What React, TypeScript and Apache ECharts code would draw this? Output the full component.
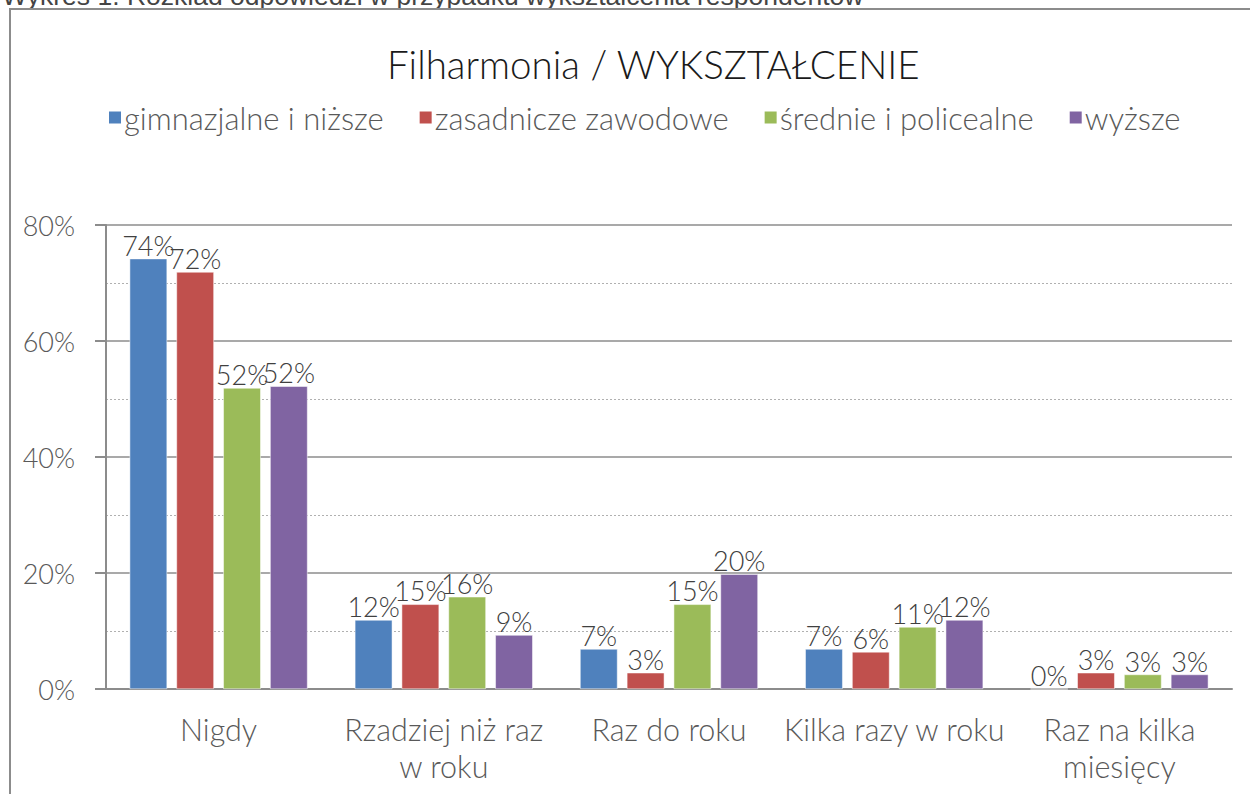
import React, { useEffect, useRef } from "react";
import * as echarts from "echarts";

const categories = ["Nigdy", "Rzadziej niż raz\nw roku", "Raz do roku", "Kilka razy w roku", "Raz na kilka\nmiesięcy"];
const seriesNames = ["gimnazjalne i niższe", "zasadnicze zawodowe", "średnie i policealne", "wyższe"];
const gimnazjalne = [74.2, 11.9, 6.9, 6.9, 0];
const zasadnicze = [71.9, 14.6, 2.8, 6.4, 2.8];
const srednie = [51.9, 15.9, 14.6, 10.7, 2.5];
const wyzsze = [52.2, 9.3, 19.8, 11.9, 2.5];
const colors = ["#4f81bd", "#c0504d", "#9bbb59", "#8064a2"];
const yTicks = [0, 20, 40, 60, 80];

const FONT = "Lato, 'DejaVu Sans', sans-serif";

export default function App() {
  const ref = useRef<HTMLDivElement>(null);
  useEffect(() => {
    if (!ref.current) return;
    const chart = echarts.init(ref.current, undefined, { renderer: "svg" });
    const data = [gimnazjalne, zasadnicze, srednie, wyzsze];
    chart.setOption({
      animation: false,
      backgroundColor: "#ffffff",
      textStyle: { fontFamily: FONT },
      title: {
        text: "Filharmonia / WYKSZTAŁCENIE",
        left: 382,
        top: 39,
        textStyle: { fontSize: 38.5, fontWeight: 300, color: "#1a1a1a", fontFamily: FONT },
      },
      legend: {
        top: 97,
        left: 102,
        itemWidth: 14,
        itemHeight: 14,
        itemGap: 34,
        icon: "rect",
        textStyle: { fontSize: 31, fontWeight: 300, color: "#595959", fontFamily: FONT, padding: [0, 0, 0, -3] },
        data: seriesNames,
      },
      graphic: [
        {
          type: "text",
          left: 2,
          top: -18,
          style: {
            text: "Wykres 1. Rozkład odpowiedzi w przypadku wykształcenia respondentów",
            fontSize: 26.5,
            fontFamily: "'Liberation Sans', sans-serif",
            fill: "#444",
          },
        },
        {
          type: "rect",
          shape: { x: 10, y: 9, width: 1300, height: 900 },
          style: { fill: "none", stroke: "#8c8c8c", lineWidth: 2 },
          silent: true,
        },
      ],
      grid: { left: 106, right: 18, top: 225, bottom: 105, containLabel: false },
      xAxis: {
        type: "category",
        data: categories,
        axisLine: { lineStyle: { color: "#8c8c8c", width: 2 } },
        axisTick: { show: false },
        axisLabel: {
          interval: 0,
          fontSize: 30.5,
          fontWeight: 300,
          color: "#595959",
          lineHeight: 37,
          margin: 21,
          fontFamily: FONT,
        },
      },
      yAxis: {
        type: "value",
        min: yTicks[0],
        max: yTicks[yTicks.length - 1],
        interval: 20,
        axisLine: { show: true, lineStyle: { color: "#8c8c8c", width: 2 } },
        axisTick: { show: true, length: 11, lineStyle: { color: "#8c8c8c", width: 2 } },
        axisLabel: {
          formatter: "{value}%",
          fontSize: 27,
          fontWeight: 300,
          color: "#595959",
          margin: 31,
          fontFamily: FONT,
        },
        splitLine: { show: true, lineStyle: { color: "#8c8c8c", width: 1.5 } },
        minorTick: { show: false, splitNumber: 2 },
        minorSplitLine: { show: true, lineStyle: { color: "#b0b0b0", type: [2, 2], width: 1 } },
      },
      series: seriesNames.map((name, i) => ({
        name,
        type: "bar",
        data: data[i],
        barGap: "25%",
        barCategoryGap: "21%",
        itemStyle: { color: colors[i], borderColor: "#ffffff", borderWidth: 0.5 },
        label: {
          show: true,
          position: "top",
          distance: 0,
          fontSize: 27,
          fontWeight: 300,
          color: "#404040",
          fontFamily: FONT,
          formatter: (p: any) => Math.round(p.value) + "%",
        },
      })),
    });
    return () => chart.dispose();
  }, []);
  return <div ref={ref} style={{ position: "absolute", left: 0, top: 0, width: 1250, height: 794 }} />;
}
